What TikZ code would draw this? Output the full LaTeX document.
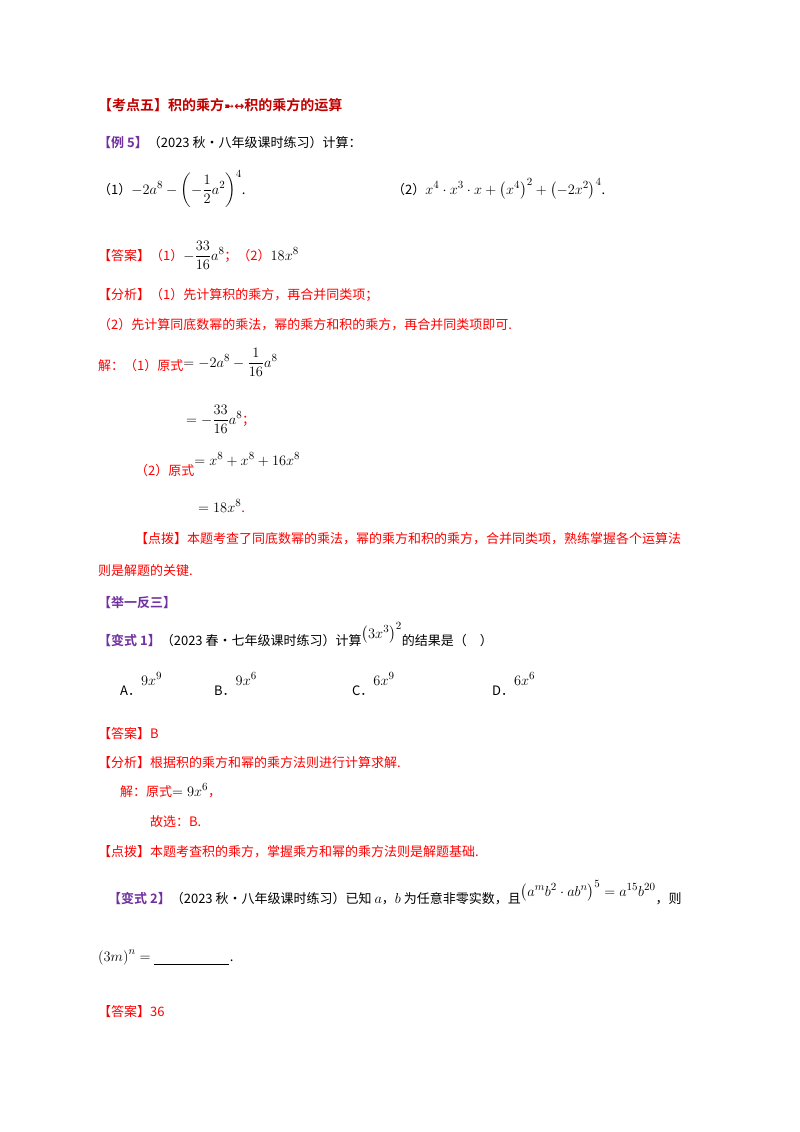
\documentclass[tikz,border=0pt]{standalone}
\usepackage{amsmath}
\usepackage{fontspec}
\setmainfont{Carlito}
\newfontfamily\cjk{Noto Sans CJK SC}[BoldFont={Noto Sans CJK SC Bold}]
\newfontfamily\djvfont{DejaVu Sans}
\newcommand\mm[1]{{\fontsize{15}{17}\selectfont$#1$}}
\definecolor{tred}{HTML}{C00000}
\definecolor{pur}{HTML}{7030A0}
\definecolor{rd}{HTML}{FF0000}
\begin{document}
\begin{tikzpicture}[x=1pt,y=-1pt,
 t/.style={anchor=base west,inner sep=0pt,font=\fontsize{13}{15}\selectfont\cjk},
 red/.style={t,text=rd}]
\useasboundingbox (0,0) rectangle (800,1132);
\fill[white] (0,0) rectangle (800,1132);
\node[t,text=tred,font=\fontsize{14}{16}\selectfont\cjk\bfseries] (h) at (98,110) {【考点五】积的乘方{\djvfont\fontsize{12}{12}\selectfont ➼↔}积的乘方的运算};
\node[t] (e5) at (98,147) {\textcolor{pur}{\bfseries【例 5】}（2023 秋·八年级课时练习）计算：};
\node[t] (p1) at (98,194) {（1）\mm{-2a^8-\left(-\dfrac12a^2\right)^4}.};
\node[t] (p2) at (392,194) {（2）\mm{x^4\cdot x^3\cdot x+\left(x^4\right)^2+\left(-2x^2\right)^4}.};
\node[t] (ans) at (98,260) {\textcolor{rd}{【答案】（1）}\mm{-\dfrac{33}{16}a^8}\textcolor{rd}{；（2）}\mm{18x^8}};
\node[red] (an1) at (98,299) {【分析】（1）先计算积的乘方，再合并同类项；};
\node[red] (an2) at (98,329) {（2）先计算同底数幂的乘法，幂的乘方和积的乘方，再合并同类项即可.};
\node[t] (s1) at (98,370) {\textcolor{rd}{解：（1）原式}\raisebox{3pt}{\mm{=-2a^8-\dfrac{1}{16}a^8}}};
\node[t] (s2) at (186,424) {\mm{=-\dfrac{33}{16}a^8}\textcolor{rd}{；}};
\node[t] (s3) at (135,475) {\textcolor{rd}{（2）原式}\raisebox{10pt}{\mm{=x^8+x^8+16x^8}}};
\node[t] (s4) at (198,512) {\mm{=18x^8}\textcolor{rd}{.}};
\node[red] (d1) at (135,543) {【点拨】本题考查了同底数幂的乘法，幂的乘方和积的乘方，合并同类项，熟练掌握各个运算法};
\node[red] (d2) at (98,575) {则是解题的关键.};
\node[t,text=pur,font=\fontsize{13}{15}\selectfont\cjk\bfseries] (jy) at (98,607) {【举一反三】};
\node[t] (b1) at (98,645) {\textcolor{pur}{\bfseries【变式 1】}（2023 春·七年级课时练习）计算\raisebox{7pt}{\mm{\left(3x^3\right)^2}}的结果是（\quad ）};
\node[t] (oA) at (120,695) {A．\raisebox{10pt}{\mm{9x^9}}};
\node[t] (oB) at (214,695) {B．\raisebox{10pt}{\mm{9x^6}}};
\node[t] (oC) at (352,695) {C．\raisebox{10pt}{\mm{6x^9}}};
\node[t] (oD) at (492,695) {D．\raisebox{10pt}{\mm{6x^6}}};
\node[red] (a2) at (98,738) {【答案】B};
\node[red] (f2) at (98,767) {【分析】根据积的乘方和幂的乘方法则进行计算求解.};
\node[t] (j2) at (120,796) {\textcolor{rd}{解：原式}\mm{=9x^6}\textcolor{rd}{，}};
\node[red] (g2) at (150,826) {故选：B.};
\node[red] (d3) at (98,856) {【点拨】本题考查积的乘方，掌握乘方和幂的乘方法则是解题基础.};
\node[t] (b2) at (108,903) {\textcolor{pur}{\bfseries【变式 2】}（2023 秋·八年级课时练习）已知 \mm{a}，\mm{b} 为任意非零实数，且\raisebox{7pt}{\mm{\left(a^mb^2\cdot ab^n\right)^5=a^{15}b^{20}}}，则};
\node[t] (q2) at (98,961) {\mm{\left(3m\right)^n=}};
\coordinate (u1) at ([xshift=3pt,yshift=-3pt]q2.base east);
\coordinate (u2) at ([xshift=75pt]u1);
\draw (u1) -- (u2);
\node[t,anchor=base west] (dot) at ([xshift=1pt]q2.base east -| u2) {.};
\node[red] (a3) at (98,1016) {【答案】36};
\end{tikzpicture}
\end{document}
